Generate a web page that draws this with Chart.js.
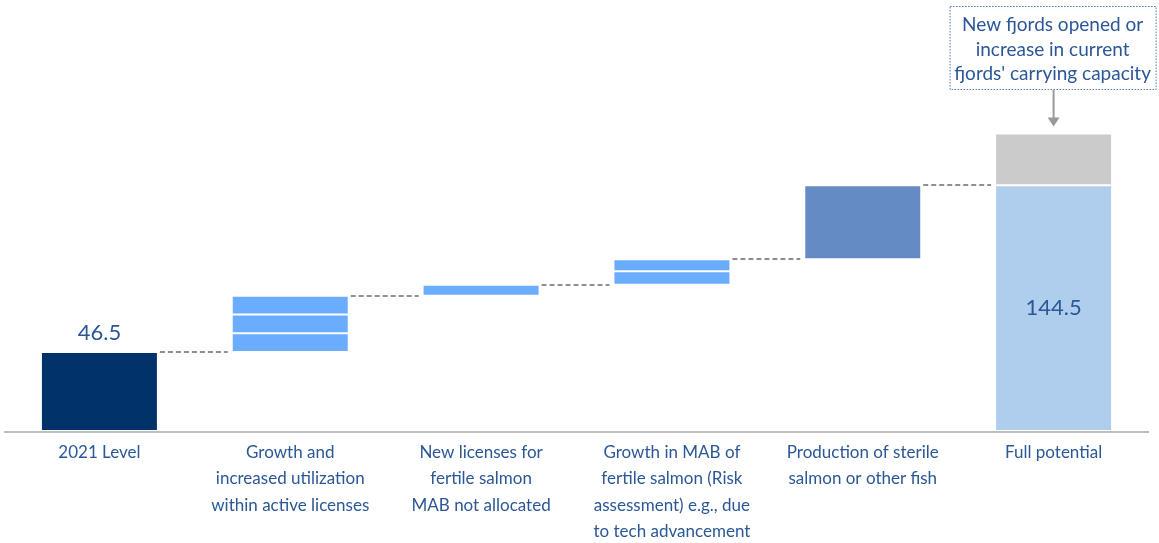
<!DOCTYPE html>
<html>
<head>
<meta charset="utf-8">
<script src="https://cdn.jsdelivr.net/npm/chart.js"></script>
<style>
  html, body { margin: 0; padding: 0; background: #fff; }
  #wrap { width: 1159px; height: 543px; }
</style>
</head>
<body>
<div id="wrap"><canvas id="waterfallChart"></canvas></div>
<script>

// categories (multi-line axis labels)
const categories = [
  ['2021 Level'],
  ['Growth and', 'increased utilization', 'within active licenses'],
  ['New licenses for', 'fertile salmon', 'MAB not allocated'],
  ['Growth in MAB of', 'fertile salmon (Risk', 'assessment) e.g., due', 'to tech advancement'],
  ['Production of sterile', 'salmon or other fish'],
  ['Full potential']
];

// floating segments [from, to] per column, stacked visually
const segBase = [[0, 46.5], [46.5, 57.5], [79.5, 86], [86, 94], [101, 144.5], [0, 144.5]];
const segMid  = [null, [57.5, 68.5], null, [94, 101], null, [144.5, 175]];
const segTop  = [null, [68.5, 79.5], null, null, null, null];

const baseColors = ['#01336a', '#6aadff', '#6aadff', '#6aadff', '#648bc4', '#afcdec'];
const midColors  = ['#6aadff', '#6aadff', '#6aadff', '#6aadff', '#6aadff', '#cbcbcb'];

// value labels
const valueLabels = ['46.5', null, null, null, null, '144.5'];
const calloutText = ['New fjords opened or', 'increase in current', "fjords' carrying capacity"];

const textBlue = '#2b5797';
const fontFam = 'Lato, "Open Sans", sans-serif';

document.addEventListener('DOMContentLoaded', function(){

  // top of each column (used for connectors)
  const colTop = segBase.map((s, i) => Math.max(s[1], segMid[i] ? segMid[i][1] : 0, segTop[i] ? segTop[i][1] : 0));
  colTop[5] = segBase[5][1];

  const connectorPlugin = {
    id: 'connectors',
    afterDatasetsDraw(chart) {
      const ctx = chart.ctx;
      const meta = chart.getDatasetMeta(0);
      const y = chart.scales.y;
      ctx.save();
      ctx.strokeStyle = '#8f8f8f';
      ctx.lineWidth = 2;
      ctx.setLineDash([5, 3]);
      for (let i = 0; i < meta.data.length - 1; i++) {
        const a = meta.data[i], b = meta.data[i + 1];
        const py = Math.round(y.getPixelForValue(colTop[i])) ;
        ctx.beginPath();
        ctx.moveTo(a.x + a.width / 2 + 2, py);
        ctx.lineTo(b.x - b.width / 2 - 4, py);
        ctx.stroke();
      }
      ctx.restore();
    }
  };

  const labelPlugin = {
    id: 'labels',
    afterDraw(chart) {
      const ctx = chart.ctx;
      const meta = chart.getDatasetMeta(0);
      const y = chart.scales.y;
      ctx.save();
      ctx.fillStyle = textBlue;
      ctx.font = '22px ' + fontFam;
      ctx.textAlign = 'center';
      ctx.textBaseline = 'middle';
      // 46.5 above first bar
      ctx.fillText(valueLabels[0], meta.data[0].x, y.getPixelForValue(segBase[0][1]) - 19);
      // 144.5 inside last bar, mid height
      ctx.fillText(valueLabels[5], meta.data[5].x, y.getPixelForValue(segBase[5][1] / 2));

      // callout box
      const cx = meta.data[5].x;
      const boxL = cx - 104, boxR = cx + 102, boxT = 6, boxB = 89;
      ctx.strokeStyle = '#4a78b0';
      ctx.lineWidth = 1;
      ctx.setLineDash([1.5, 1.5]);
      ctx.strokeRect(boxL + 0.5, boxT + 0.5, boxR - boxL, boxB - boxT);
      ctx.setLineDash([]);
      ctx.font = '19px ' + fontFam;
      calloutText.forEach((t, k) => ctx.fillText(t, (boxL + boxR) / 2, 25 + k * 24.5));

      // arrow
      const topPx = y.getPixelForValue(segMid[5][1]);
      ctx.strokeStyle = '#9a9a9a';
      ctx.fillStyle = '#9a9a9a';
      ctx.lineWidth = 2;
      ctx.beginPath();
      ctx.moveTo(cx, boxB + 1);
      ctx.lineTo(cx, topPx - 14);
      ctx.stroke();
      ctx.beginPath();
      ctx.moveTo(cx - 6, topPx - 16);
      ctx.lineTo(cx + 6, topPx - 16);
      ctx.lineTo(cx, topPx - 7);
      ctx.closePath();
      ctx.fill();

      // baseline
      const xs = chart.scales.x;
      ctx.strokeStyle = '#bdbdbd';
      ctx.lineWidth = 2;
      ctx.beginPath();
      ctx.moveTo(xs.left, y.getPixelForValue(0) + 1);
      ctx.lineTo(xs.right, y.getPixelForValue(0) + 1);
      ctx.stroke();
      ctx.restore();
    }
  };

  const common = {
    grouped: false,
    barPercentage: 0.613,
    categoryPercentage: 1,
    borderColor: 'rgba(255,255,255,0.95)',
    borderWidth: 1,
    borderSkipped: false
  };

  new Chart(
    document.getElementById('waterfallChart'),
    {
      type: 'bar',
      data: {
        labels: categories,
        datasets: [
          Object.assign({ label: 'base', data: segBase, backgroundColor: baseColors }, common),
          Object.assign({ label: 'mid', data: segMid, backgroundColor: midColors }, common),
          Object.assign({ label: 'top', data: segTop, backgroundColor: '#6aadff' }, common)
        ]
      },
      options: {
        responsive: true,
        maintainAspectRatio: false,
        animation: false,
        layout: { padding: { top: 6, left: 4, right: 10, bottom: 0 } },
        plugins: {
          legend: { display: false },
          tooltip: { enabled: false }
        },
        scales: {
          y: {
            display: false,
            min: 0,
            max: 250
          },
          x: {
            grid: { display: false, drawTicks: false },
            border: { display: false },
            afterFit: s => { s.height = 112; },
            ticks: {
              color: textBlue,
              padding: 8,
              maxRotation: 0,
              autoSkip: false,
              font: { family: fontFam, size: 17, lineHeight: 1.56 }
            }
          }
        }
      },
      plugins: [connectorPlugin, labelPlugin]
    }
  );

});

</script>
</body>
</html>
